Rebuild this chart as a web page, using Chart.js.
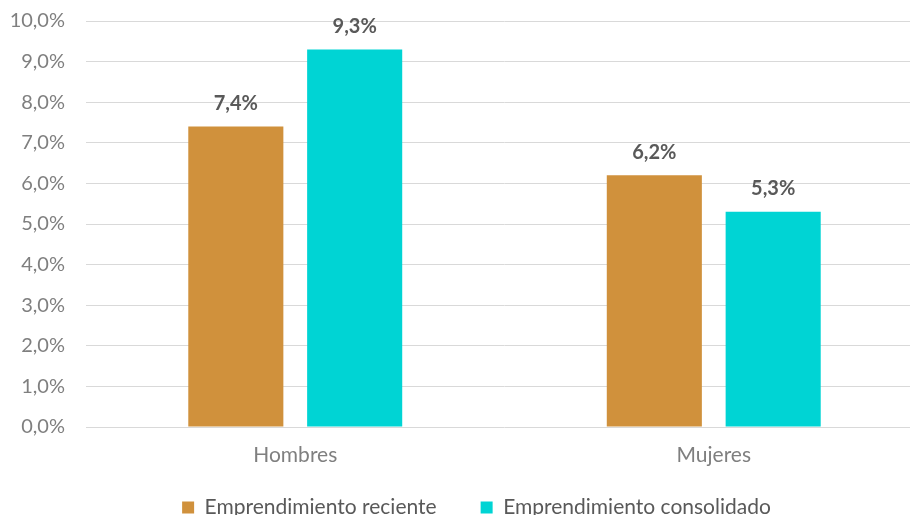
<!DOCTYPE html>
<html>
<head>
<meta charset="utf-8">
<script src="https://cdn.jsdelivr.net/npm/chart.js@4/dist/chart.umd.min.js"></script>
<style>
  html, body { margin: 0; padding: 0; background: #fff; overflow: hidden; }
  /* el lienzo es algo más grande que la ventana: el gráfico original está recortado */
  #wrap { width: 924px; height: 549px; position: relative; }
</style>
</head>
<body>
<div id="wrap"><canvas id="chart"></canvas></div>
<script>
// datos del gráfico
const categorias = ['Hombres', 'Mujeres'];
const reciente = [7.4, 6.2];
const consolidado = [9.3, 5.3];
const nombresSeries = ['Emprendimiento reciente', 'Emprendimiento consolidado'];

const FONT = 'Lato';

function pct(v) {
  return v.toFixed(1).replace('.', ',') + '%';
}

// etiquetas de valor encima de las barras
const valueLabels = {
  id: 'valueLabels',
  afterDatasetsDraw(chart) {
    const ctx = chart.ctx;
    ctx.save();
    ctx.font = 'bold 20px ' + FONT;
    ctx.fillStyle = '#595959';
    ctx.textAlign = 'center';
    ctx.textBaseline = 'middle';
    chart.data.datasets.forEach((ds, i) => {
      chart.getDatasetMeta(i).data.forEach((bar, j) => {
        ctx.fillText(pct(ds.data[j]), bar.x, bar.y - 23);
      });
    });
    ctx.restore();
  }
};

// mover la leyenda: un poco a la derecha y hacia arriba
const legendShift = {
  id: 'legendShift',
  afterLayout(chart) {
    const lg = chart.legend;
    lg.left += 15;
    lg.right += 15;
    lg.top -= 21;
    lg.bottom -= 21;
  }
};

new Chart(document.getElementById('chart'), {
  type: 'bar',
  data: {
    labels: categorias,
    datasets: [{
      label: nombresSeries[0],
      data: reciente,
      backgroundColor: '#D0913C',
      barPercentage: 0.8,
      categoryPercentage: 0.568
    }, {
      label: nombresSeries[1],
      data: consolidado,
      backgroundColor: '#00D4D4',
      barPercentage: 0.8,
      categoryPercentage: 0.568
    }]
  },
  options: {
    responsive: true,
    maintainAspectRatio: false,
    animation: false,
    layout: { padding: { top: 21, right: 1, left: 0, bottom: 0 } },
    plugins: {
      tooltip: { enabled: false },
      legend: {
        position: 'bottom',
        labels: {
          color: '#595959',
          font: { family: FONT, size: 21 },
          boxWidth: 12,
          boxHeight: 12,
          padding: 44
        }
      }
    },
    scales: {
      x: {
        grid: { display: false },
        border: { display: false },
        ticks: { color: '#7F7F7F', font: { family: FONT, size: 21 }, padding: 8 },
        afterFit(scale) { scale.height = 47; }
      },
      y: {
        min: 0,
        max: 10,
        ticks: {
          stepSize: 1,
          color: '#7F7F7F',
          font: { family: FONT, size: 20 },
          padding: 21,
          callback: v => pct(v)
        },
        grid: { color: '#D9D9D9', lineWidth: 1, drawTicks: false },
        border: { display: false },
        afterFit(scale) {
          scale.width = 86;
          scale.paddingTop = 0;
          scale.paddingBottom = 0;
        }
      }
    }
  },
  plugins: [valueLabels, legendShift]
});
</script>
</body>
</html>
